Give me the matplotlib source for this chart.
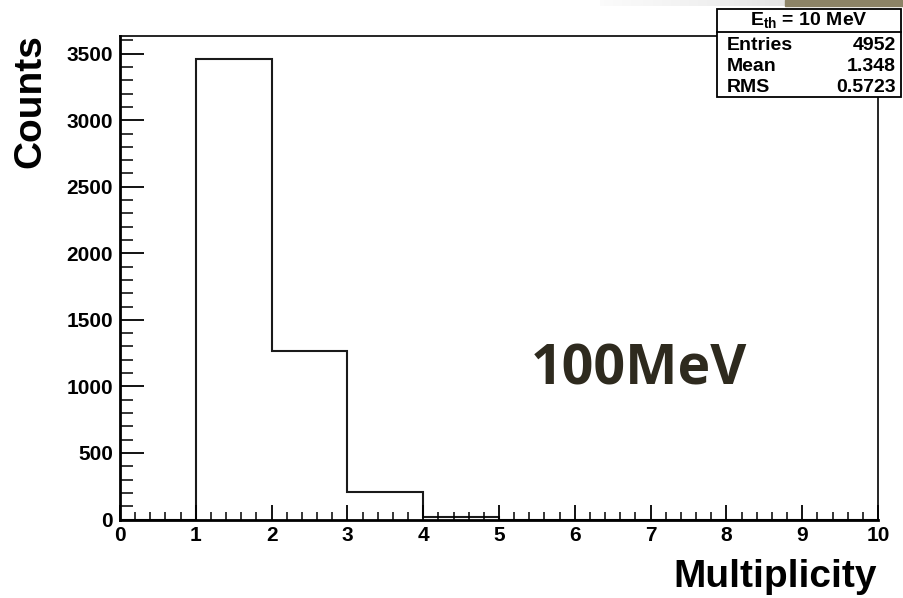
import numpy as np
import matplotlib.pyplot as plt
from matplotlib.patches import Rectangle
from matplotlib.ticker import MultipleLocator

plt.rcParams['font.family'] = ['Liberation Sans', 'DejaVu Sans']
plt.rcParams['font.weight'] = 'bold'
plt.rcParams['mathtext.fontset'] = 'custom'
plt.rcParams['mathtext.rm'] = 'Liberation Sans:bold'
plt.rcParams['mathtext.bf'] = 'Liberation Sans:bold'

# histogram contents
bin_edges = [0, 1, 2, 3, 4, 5, 6, 7, 8, 9, 10]
counts = [0, 3462, 1268, 204, 18, 0, 0, 0, 0, 0]

stats_title = r'$\mathbf{E_{th}}$ = 10 MeV'
stats_names = ['Entries', 'Mean', 'RMS']
stats_values = ['4952', '1.348', '0.5723']

W, H = 904, 598
fig = plt.figure(figsize=(W / 100, H / 100), dpi=100)
ax = fig.add_axes([120 / W, (H - 519.5) / H, (878 - 120) / W, (519.5 - 36) / H])

ax.stairs(counts, bin_edges, color='#1a1a1a', linewidth=1.5)
ax.set_xlim(0, 10)
ax.set_ylim(0, 3633)

for s in ['top', 'right']:
    ax.spines[s].set_linewidth(1.2)
for s in ['left', 'bottom']:
    ax.spines[s].set_linewidth(2)

ax.xaxis.set_major_locator(MultipleLocator(1))
ax.xaxis.set_minor_locator(MultipleLocator(0.2))
ax.yaxis.set_major_locator(MultipleLocator(500))
ax.yaxis.set_minor_locator(MultipleLocator(100))
ax.tick_params(axis='x', which='major', direction='in', length=11, width=1.3, labelsize=15, pad=5)
ax.tick_params(axis='x', which='minor', direction='in', length=6, width=1.1)
ax.tick_params(axis='y', which='major', direction='in', length=17, width=1.3, labelsize=15, pad=5)
ax.tick_params(axis='y', which='minor', direction='in', length=9, width=1.1)
for lab in ax.get_xticklabels() + ax.get_yticklabels():
    lab.set_fontweight('bold')

fig.text(30 / W, 1 - 101 / H, 'Counts', rotation=90, fontsize=28, fontweight='bold',
         ha='center', va='center')
fig.text(877 / W, 1 - 577 / H, 'Multiplicity', fontsize=28, fontweight='bold',
         ha='right', va='center')

ax.text(0.685, 0.31, '100MeV', transform=ax.transAxes, fontsize=40, fontweight='bold',
        family=['Open Sans', 'DejaVu Sans'], color='#2e2a1e', ha='center', va='center')

# overlay in pixel coordinates for the stats box and the slide decoration
ov = fig.add_axes([0, 0, 1, 1])
ov.set_xlim(0, W)
ov.set_ylim(H, 0)
ov.axis('off')
ov.patch.set_alpha(0)

grad = np.linspace(0, 1, 200).reshape(1, -1)
ov.imshow(grad, extent=[600, 786, 6, 0], cmap='Greys', vmin=-0.2, vmax=6,
          aspect='auto', zorder=1)
ov.add_patch(Rectangle((785, 0), W - 785, 5.5, color='#8c8366', zorder=2))

ov.add_patch(Rectangle((717, 9), 184, 88, facecolor='white', edgecolor='black',
                       linewidth=1.3, zorder=3))
ov.plot([717, 901], [32, 32], color='black', linewidth=1.3, zorder=4)
ov.text(809, 20, stats_title, fontsize=14, fontweight='bold', ha='center', va='center', zorder=5)
for i, (name, val) in enumerate(zip(stats_names, stats_values)):
    y = 46 + i * 20.5
    ov.text(727, y, name, fontsize=14, fontweight='bold', ha='left', va='center', zorder=5)
    ov.text(896, y, val, fontsize=14, fontweight='bold', ha='right', va='center', zorder=5)

fig.savefig('out.png', dpi=100)
